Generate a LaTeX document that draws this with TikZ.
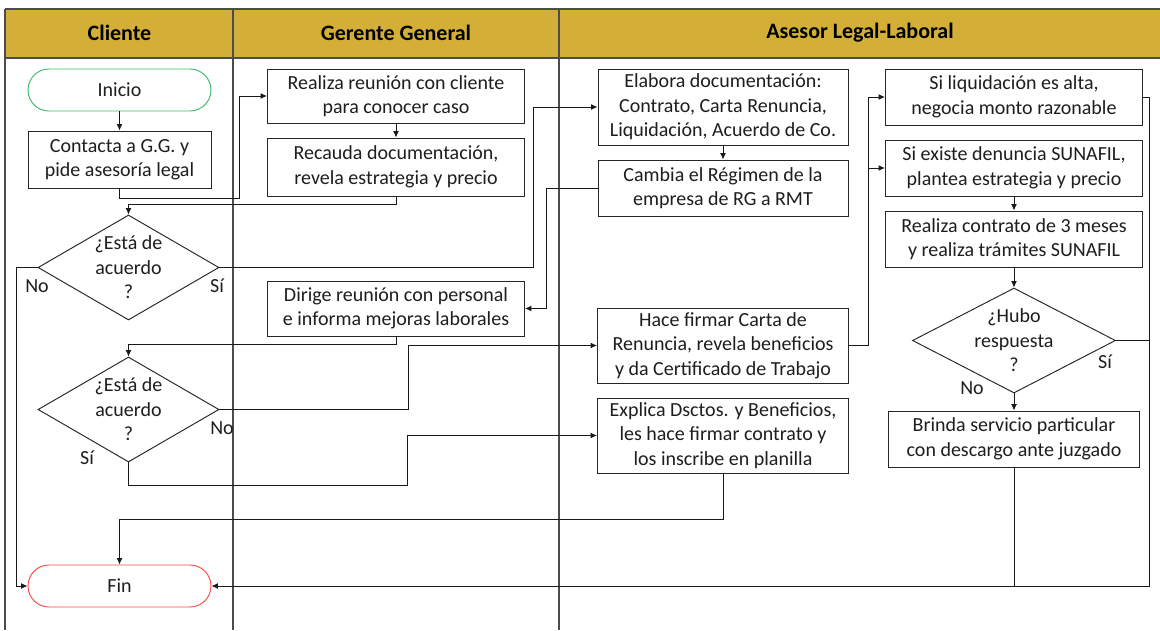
\documentclass[tikz,border=0pt]{standalone}
\usepackage{fontspec}
\setmainfont{Carlito}
\usetikzlibrary{shapes.geometric,arrows.meta,calc}

\definecolor{lanegold}{HTML}{D4AF37}
\definecolor{startgreen}{HTML}{3DBE6E}
\definecolor{endred}{HTML}{FF4A4A}
\definecolor{inkgray}{HTML}{1E1E1E}

\begin{document}
\begin{tikzpicture}[x=1pt,y=-1pt,
  txt/.style={font=\fontsize{20}{24.5}\selectfont, text=inkgray, align=center},
  box/.style={txt, draw=black!85, line width=0.95pt, fill=white, inner sep=0pt},
  term/.style={box, rounded corners=21pt, minimum width=183pt, minimum height=42pt},
  dec/.style={diamond, draw=black!85, line width=0.95pt, fill=white, inner sep=0pt},
  lbl/.style={txt, inner sep=0pt},
  hdr/.style={font=\fontsize{22}{26}\selectfont\bfseries, text=black},
  arr/.style={line width=1pt, draw=black!90, -{Latex[length=6.5pt,width=6pt]}},
  ln/.style={line width=1pt, draw=black!90},
  lane/.style={line width=1.3pt, draw=black!70},
]
\useasboundingbox (0,0) rectangle (1160,630);
\fill[white] (0,0) rectangle (1160,630);

% swimlane header and lane borders
\fill[lanegold] (5,9) rectangle (1160,58);
\draw[lane] (5,9) -- (1160,9);
\draw[lane] (5,58) -- (1160,58);
\draw[lane] (5,9) -- (5,630);
\draw[lane] (233,9) -- (233,630);
\draw[lane] (559,9) -- (559,630);
\node[hdr] (hcli) at (119.5,33) {Cliente};
\node[hdr] (hger) at (396,33) {Gerente General};
\node[hdr] (hase) at (860,33) {Asesor Legal-Laboral};

% Cliente
\node[term, draw=startgreen] (ini) at (119.5,90) {Inicio};
\node[box, minimum width=183pt, minimum height=57pt] (con) at (119.5,159.5) {Contacta a G.G. y\\pide asesoría legal};
\node[dec, minimum width=181pt, minimum height=105pt] (d1) at (128.5,267.5) {};
\node[lbl] (d1t) at (d1.center) {¿Está de\\acuerdo\\?};
\node[dec, minimum width=181pt, minimum height=105pt] (d2) at (128.5,409.5) {};
\node[lbl] (d2t) at (d2.center) {¿Está de\\acuerdo\\?};
\node[term, draw=endred] (fin) at (119.5,586) {Fin};

% Gerente General
\node[box, minimum width=257pt, minimum height=54pt] (rea) at (396,96) {Realiza reunión con cliente\\para conocer caso};
\node[box, minimum width=257pt, minimum height=58pt] (rec) at (396,167) {Recauda documentación,\\revela estrategia y precio};
\node[box, minimum width=257pt, minimum height=55pt] (dir) at (396,308.5) {Dirige reunión con personal\\e informa mejoras laborales};

% Asesor Legal-Laboral
\node[box, minimum width=250pt, minimum height=76pt] (ela) at (723,107) {Elabora documentación:\\Contrato, Carta Renuncia,\\Liquidación, Acuerdo de Co.};
\node[box, minimum width=250pt, minimum height=56pt] (cam) at (723,188) {Cambia el Régimen de la\\empresa de RG a RMT};
\node[box, minimum width=251pt, minimum height=75pt] (hac) at (723,345.5) {Hace firmar Carta de\\Renuncia, revela beneficios\\y da Certificado de Trabajo};
\node[box, minimum width=251pt, minimum height=75pt] (exp) at (723,435.5) {Explica Dsctos. y Beneficios,\\les hace firmar contrato y\\los inscribe en planilla};
\node[box, minimum width=257pt, minimum height=56pt] (liq) at (1014,97) {Si liquidación es alta,\\negocia monto razonable};
\node[box, minimum width=257pt, minimum height=56pt] (exi) at (1014,168) {Si existe denuncia SUNAFIL,\\plantea estrategia y precio};
\node[box, minimum width=257pt, minimum height=56pt] (ctr) at (1014,239) {Realiza contrato de 3 meses\\y realiza trámites SUNAFIL};
\node[dec, minimum width=203pt, minimum height=105pt] (hub) at (1014,340.5) {};
\node[lbl] (hubt) at (hub.center) {¿Hubo\\respuesta\\?};
\node[box, minimum width=251pt, minimum height=56pt] (bri) at (1014,439) {Brinda servicio particular\\con descargo ante juzgado};

% branch labels
\node[lbl] (no1) at (37,286) {No};
\node[lbl] (si1) at (217,286) {Sí};
\node[lbl] (no2) at (222,428) {No};
\node[lbl] (si2) at (87,458) {Sí};
\node[lbl] (no3) at (972,388) {No};
\node[lbl] (si3) at (1105,362) {Sí};

% connectors
\coordinate (rr) at ($(liq.east)+(7,0)$);
\draw[arr] (ini) -- (con);
\draw[arr] (con.south) -- ++(0,10) -| ($(rea.west)+(-28,0)$) -- (rea.west);
\draw[arr] (rea) -- (rec);
\draw[arr] (rec.south) -- ++(0,8) -| (d1.north);
\draw[arr] (d1.east) -| ($(ela.west)+(-64,0)$) -- (ela.west);
\draw[arr] (ela) -- (cam);
\draw[arr] (cam.west) -- ++(-51,0) |- (dir.east);
\draw[arr] (dir.south) -- ++(0,8) -| (d2.north);
\draw[arr] (d2.east) -- ++(189,0) |- (hac.west);
\draw[arr] (d2.south) -- ++(0,23) -| ($(exp.west)+(-190,0)$) -- (exp.west);
\draw[arr] (hac.east) -- ++(20,0) |- (liq.west);
\draw[arr] ($(hac.east)+(20,0)$) |- (exi.west);
\draw[arr] (exi) -- (ctr);
\draw[arr] (ctr) -- (hub);
\draw[arr] (hub) -- (bri);
\draw[arr] (liq.east) -- (rr) |- (fin.east);
\draw[ln] (hub.east) -- (hub.east -| rr);
\draw[ln] (bri.south) -- (bri.south |- fin.east);
\draw[arr] (exp.south) -- ++(0,46) -| (fin.north);
\draw[arr] (d1.west) -- ++(-21,0) |- (fin.west);
\end{tikzpicture}
\end{document}
